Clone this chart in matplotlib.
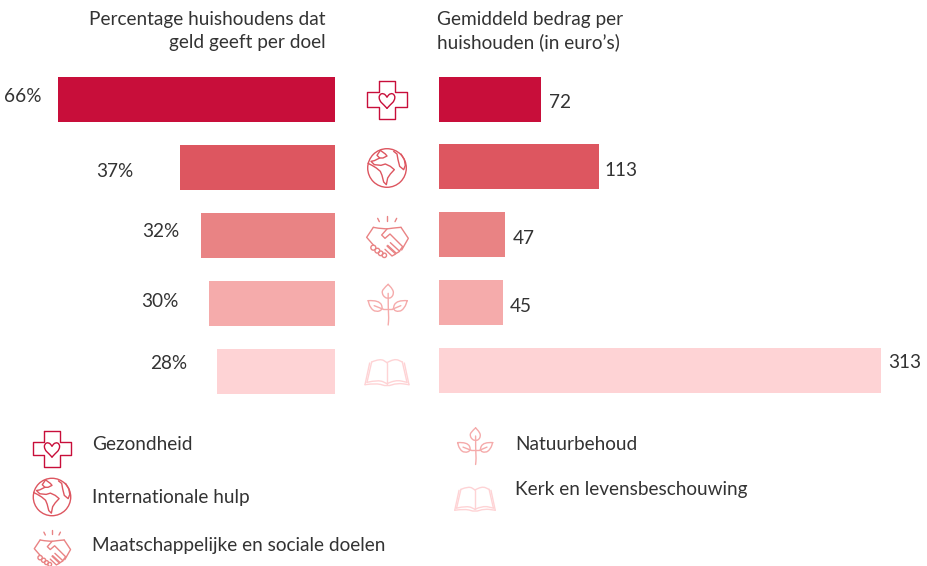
import numpy as np
from matplotlib import pyplot as plt
from matplotlib.path import Path
from matplotlib.patches import PathPatch, Circle

goals = ["Gezondheid", "Internationale hulp", "Maatschappelijke en sociale doelen",
         "Natuurbehoud", "Kerk en levensbeschouwing"]
percent = [66, 37, 32, 30, 28]
amount = [72, 113, 47, 45, 313]
colors = ["#c80e3a", "#dd5660", "#e98384", "#f5abab", "#fed3d5"]

# layout in pixels
W, H = 928, 566
rows_left = [99.5, 167.5, 235.5, 303.5, 371.5]
rows_right = [99.5, 166.5, 234.5, 302.5, 370.5]
offs_left = [(-16, 3), (-46, -4), (-21, 4), (-30, 2), (-30, 8)]
offs_right = [(8, -3), (6, -4), (7, -4), (7, -4), (7, 8)]
TXT = "#333333"
FS = 13.7
LW = 1.0

plt.rcParams['font.family'] = ['Lato', 'DejaVu Sans']

fig = plt.figure(figsize=(W / 100, H / 100), dpi=100)

ax_l = fig.add_axes([0, 0, 335 / W, 1])
ax_l.barh(rows_left, percent, height=45, color=colors)
ax_l.set_xlim(335 / 4.2, 0)
ax_l.set_ylim(H, 0)
ax_l.axis("off")
for p, y, off in zip(percent, rows_left, offs_left):
    ax_l.annotate(str(p) + "%", (p, y), xytext=off, textcoords="offset pixels",
                  ha="right", va="center", fontsize=FS, color=TXT)

ax_r = fig.add_axes([439 / W, 0, (W - 439) / W, 1])
ax_r.barh(rows_right, amount, height=45, color=colors)
ax_r.set_xlim(0, (W - 439) / 1.412)
ax_r.set_ylim(H, 0)
ax_r.axis("off")
for a, y, off in zip(amount, rows_right, offs_right):
    ax_r.annotate(str(a), (a, y), xytext=off, textcoords="offset pixels",
                  ha="left", va="center", fontsize=FS, color=TXT)

ov = fig.add_axes([0, 0, 1, 1])
ov.set_xlim(0, W)
ov.set_ylim(H, 0)
ov.axis("off")


def stroke(verts, codes, cx, cy, s, color):
    v = (np.array(verts, dtype=float)) / 3 * s + [cx, cy]
    ov.add_patch(PathPatch(Path(v, codes), fc="none", ec=color, lw=LW, capstyle="round", joinstyle="round"))


def line(pts, cx, cy, s, color):
    stroke(pts, None, cx, cy, s, color)


def smooth(pts, cx, cy, s, color):
    # quadratic curves through midpoints
    pts = np.array(pts, dtype=float)
    verts = [pts[0]]
    codes = [Path.MOVETO]
    for i in range(1, len(pts) - 1):
        verts += [pts[i], (pts[i] + pts[i + 1]) / 2]
        codes += [Path.CURVE3, Path.CURVE3]
    verts.append(pts[-1])
    codes.append(Path.LINETO)
    stroke(verts, codes, cx, cy, s, color)


def cross(cx, cy, s, color):
    a, b = 25, 60
    line([(-a, -57), (a, -57), (a, -23), (b, -23), (b, 20), (a, 20), (a, 57), (-a, 57),
          (-a, 20), (-b, 20), (-b, -23), (-a, -23), (-a, -57)], cx, cy, s, color)
    smooth([(0, 25), (-10, 14), (-23, 2), (-24, -16), (-10, -21), (0, -9)], cx, cy, s, color)
    smooth([(0, 25), (10, 14), (23, 2), (24, -16), (10, -21), (0, -9)], cx, cy, s, color)


def globe(cx, cy, s, color):
    ov.add_patch(Circle((cx, cy), 19.3 * s, fc="none", ec=color, lw=LW))
    line([(-20, -53), (-30, -38), (-22, -30), (-38, -22), (-48, -20), (-38, -10), (-18, -8), (-5, -12),
          (10, -5), (22, 5), (10, 18), (2, 30), (-2, 50), (-10, 42), (-15, 22), (-20, 10), (-32, 0),
          (-45, -8), (-57, -14)], cx, cy, s, color)
    line([(-20, -53), (-5, -42), (0, -36), (-12, -30), (-22, -30)], cx, cy, s, color)
    line([(20, -50), (30, -42), (33, -25), (38, -5), (50, 5), (55, -8), (52, -25), (42, -42)], cx, cy, s, color)


def hands(cx, cy, s, color):
    line([(-28, -65), (-23, -55)], cx, cy, s, color)
    line([(0, -72), (0, -58)], cx, cy, s, color)
    line([(29, -65), (24, -55)], cx, cy, s, color)
    smooth([(-41, -38), (-10, -32), (20, -36), (42, -38)], cx, cy, s, color)
    line([(-41, -38), (-61, -8), (-41, 15)], cx, cy, s, color)
    line([(42, -38), (64, -5), (44, 30)], cx, cy, s, color)
    line([(0, -33), (-16, -15), (-6, -5), (9, -18), (47, 20), (38, 32)], cx, cy, s, color)
    line([(10, 8), (38, 34), (28, 40), (2, 16)], cx, cy, s, color)
    line([(0, 18), (26, 42), (15, 48), (-6, 28)], cx, cy, s, color)
    for x, y, r in [(-41, 23, 2.5), (-29, 32, 2.4), (-19, 40, 2.3), (-8, 46, 2.2)]:
        ov.add_patch(Circle((cx + x / 3 * s, cy + y / 3 * s), r * s, fc="none", ec=color, lw=LW))


def plant(cx, cy, s, color):
    smooth([(2, -35), (2, 10), (4, 40), (2, 60)], cx, cy, s, color)
    smooth([(2, -62), (-14, -48), (-17, -35), (-8, -22), (2, -20), (12, -22), (19, -35), (15, -48), (2, -62)], cx, cy, s, color)
    smooth([(-58, -13), (-25, -15), (-12, 13), (-35, 22), (-52, 8), (-58, -13)], cx, cy, s, color)
    smooth([(59, -13), (28, -15), (14, 13), (35, 22), (52, 8), (59, -13)], cx, cy, s, color)
    line([(-40, 2), (-12, 13)], cx, cy, s, color)
    line([(40, 2), (14, 13)], cx, cy, s, color)
    line([(-12, 13), (14, 13)], cx, cy, s, color)


def book(cx, cy, s, color):
    smooth([(-46, -33), (-20, -44), (0, -31)], cx, cy, s, color)
    smooth([(0, -31), (22, -44), (46, -33)], cx, cy, s, color)
    line([(0, -31), (0, 32)], cx, cy, s, color)
    line([(-46, -33), (-60, 28)], cx, cy, s, color)
    line([(46, -33), (60, 28)], cx, cy, s, color)
    line([(-52, -30), (-66, 35)], cx, cy, s, color)
    line([(52, -30), (66, 35)], cx, cy, s, color)
    smooth([(-60, 28), (-25, 20), (0, 32)], cx, cy, s, color)
    smooth([(0, 32), (25, 20), (60, 28)], cx, cy, s, color)
    smooth([(-66, 35), (-30, 30), (0, 41), (30, 30), (66, 35)], cx, cy, s, color)


icons = [cross, globe, hands, plant, book]
icon_pos = [(387, 100), (387, 168), (387, 240), (387.5, 305), (387, 373)]
legend_icon = [(52, 449, 0.97), (52, 497, 0.97), (52, 551, 0.87), (475, 446.5, 0.9), (475, 499.5, 0.92)]
legend_txt = [(92, 445), (92, 497), (92, 545), (515, 445), (515, 489)]

for draw, (x, y), c in zip(icons, icon_pos, colors):
    draw(x, y, 1, c)
for draw, (x, y, s), c in zip(icons, legend_icon, colors):
    draw(x, y, s, c)
for g, (x, y) in zip(goals, legend_txt):
    ov.text(x, y, g, ha="left", va="center", fontsize=FS, color=TXT)

ov.text(326, 31, "Percentage huishoudens dat\ngeld geeft per doel", ha="right", va="center",
        multialignment="right", fontsize=FS, color=TXT, linespacing=1.4)
ov.text(437, 31, "Gemiddeld bedrag per\nhuishouden (in euro’s)", ha="left", va="center",
        fontsize=FS, color=TXT, linespacing=1.4)

fig.savefig("out.png", dpi=100)
